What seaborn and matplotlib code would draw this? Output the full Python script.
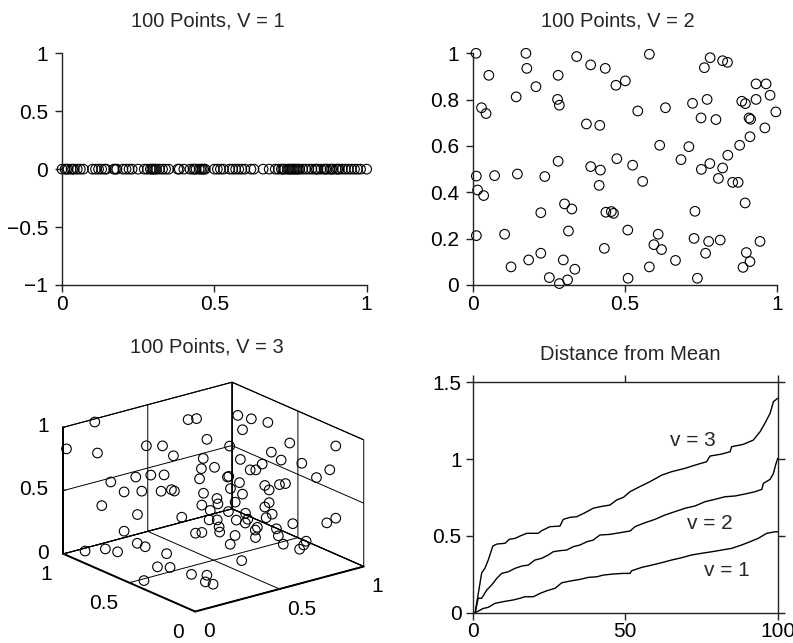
import numpy as np
import matplotlib
matplotlib.use("Agg")
import matplotlib.pyplot as plt
import seaborn as sns
from mpl_toolkits.mplot3d import Axes3D  # noqa: F401

# ---------------- data ----------------
# V = 1: points on the unit interval
v1_x = [0.00, 0.01, 0.02, 0.03, 0.04, 0.05, 0.07, 0.10, 0.11, 0.13,
        0.14, 0.17, 0.175, 0.18, 0.20, 0.22, 0.23, 0.25, 0.27, 0.28,
        0.29, 0.295, 0.30, 0.31, 0.32, 0.34, 0.35, 0.38, 0.385, 0.40,
        0.42, 0.43, 0.44, 0.45, 0.46, 0.465, 0.47, 0.50, 0.51, 0.52,
        0.53, 0.55, 0.56, 0.57, 0.58, 0.59, 0.60, 0.62, 0.63, 0.66,
        0.68, 0.70, 0.71, 0.72, 0.725, 0.73, 0.74, 0.745, 0.75, 0.755,
        0.76, 0.765, 0.77, 0.78, 0.79, 0.80, 0.81, 0.82, 0.83, 0.835,
        0.84, 0.85, 0.86, 0.865, 0.87, 0.88, 0.885, 0.89, 0.90, 0.905,
        0.91, 0.92, 0.93, 0.94, 0.95, 0.96, 0.97, 0.98, 1.00, 0.015,
        0.035, 0.06, 0.12, 0.145, 0.21, 0.305, 0.33, 0.435, 0.455, 0.775]
v1_y = [0.0] * len(v1_x)

# V = 2: points in the unit square
v2_x = [0.011, 0.175, 0.342, 0.581, 0.781, 0.822, 0.838, 0.762, 0.388, 0.436,
        0.178, 0.053, 0.281, 0.471, 0.502, 0.208, 0.932, 0.965, 0.978, 0.143,
        0.279, 0.285, 0.029, 0.044, 0.543, 0.634, 0.723, 0.771, 0.885, 0.897,
        0.932, 0.997, 0.751, 0.800, 0.909, 0.914, 0.961, 0.912, 0.878, 0.374,
        0.418, 0.615, 0.711, 0.685, 0.839, 0.780, 0.752, 0.822, 0.808, 0.855,
        0.873, 0.281, 0.388, 0.420, 0.474, 0.526, 0.559, 0.012, 0.072, 0.147,
        0.237, 0.016, 0.036, 0.416, 0.896, 0.302, 0.326, 0.438, 0.456, 0.463,
        0.731, 0.224, 0.012, 0.105, 0.315, 0.510, 0.610, 0.596, 0.621, 0.728,
        0.776, 0.814, 0.945, 0.900, 0.912, 0.889, 0.766, 0.667, 0.581, 0.433,
        0.224, 0.184, 0.126, 0.298, 0.336, 0.252, 0.285, 0.312, 0.511, 0.739]
v2_y = [1.000, 1.000, 0.986, 0.996, 0.981, 0.968, 0.961, 0.938, 0.950, 0.935,
        0.935, 0.905, 0.905, 0.862, 0.881, 0.856, 0.868, 0.868, 0.819, 0.812,
        0.801, 0.776, 0.765, 0.740, 0.751, 0.765, 0.784, 0.801, 0.793, 0.783,
        0.801, 0.747, 0.721, 0.714, 0.721, 0.715, 0.678, 0.640, 0.603, 0.695,
        0.689, 0.603, 0.597, 0.541, 0.560, 0.524, 0.499, 0.505, 0.460, 0.443,
        0.443, 0.534, 0.511, 0.496, 0.545, 0.517, 0.447, 0.470, 0.472, 0.479,
        0.468, 0.410, 0.386, 0.430, 0.354, 0.350, 0.328, 0.314, 0.317, 0.309,
        0.318, 0.312, 0.213, 0.219, 0.233, 0.237, 0.219, 0.174, 0.153, 0.201,
        0.188, 0.194, 0.188, 0.140, 0.101, 0.076, 0.137, 0.106, 0.078, 0.158,
        0.137, 0.108, 0.078, 0.108, 0.068, 0.032, 0.006, 0.022, 0.029, 0.029]

# V = 3: points in the unit cube
v3_x = [0.17, 0.01, 0.10, 0.63, 0.68, 0.87, 0.88, 0.90, 0.82, 0.64,
        0.32, 0.40, 0.41, 0.72, 0.85, 0.92, 0.54, 0.69, 0.78, 0.76,
        0.82, 0.56, 0.49, 0.67, 0.68, 0.71, 0.90, 0.86, 0.14, 0.21,
        0.26, 0.30, 0.44, 0.59, 0.59, 0.63, 0.77, 0.71, 0.75, 0.18,
        0.23, 0.29, 0.32, 0.33, 0.60, 0.64, 0.72, 0.11, 0.22, 0.52,
        0.51, 0.43, 0.62, 0.72, 0.71, 0.35, 0.48, 0.58, 0.65, 0.71,
        0.64, 0.73, 0.58, 0.45, 0.49, 0.61, 0.47, 0.65, 0.79, 0.89,
        0.92, 0.18, 0.33, 0.36, 0.45, 0.51, 0.63, 0.60, 0.74, 0.72,
        0.71, 0.45, 0.83, 0.80, 0.76, 0.05, 0.10, 0.11, 0.18, 0.18,
        0.19, 0.12, 0.14, 0.44, 0.15, 0.21, 0.04, 0.17, 0.20, 0.44]
v3_y = [0.98, 0.99, 0.87, 0.86, 0.86, 0.79, 0.70, 0.60, 0.69, 0.73,
        0.78, 0.76, 0.69, 0.66, 0.37, 0.11, 0.63, 0.54, 0.42, 0.32,
        0.24, 0.57, 0.58, 0.44, 0.41, 0.40, 0.13, 0.18, 0.82, 0.72,
        0.67, 0.62, 0.53, 0.50, 0.51, 0.47, 0.30, 0.38, 0.32, 0.77,
        0.70, 0.63, 0.59, 0.58, 0.50, 0.46, 0.36, 0.85, 0.72, 0.50,
        0.48, 0.50, 0.49, 0.36, 0.38, 0.55, 0.50, 0.49, 0.45, 0.37,
        0.42, 0.35, 0.43, 0.47, 0.46, 0.40, 0.42, 0.36, 0.27, 0.14,
        0.11, 0.77, 0.42, 0.41, 0.39, 0.35, 0.35, 0.31, 0.33, 0.29,
        0.24, 0.31, 0.22, 0.20, 0.18, 0.90, 0.81, 0.73, 0.67, 0.61,
        0.46, 0.44, 0.37, 0.21, 0.22, 0.18, 0.44, 0.14, 0.12, 0.50]
v3_z = [0.99, 0.83, 0.82, 0.90, 0.89, 0.88, 0.89, 0.90, 0.83, 0.80,
        0.84, 0.82, 0.77, 0.75, 0.86, 0.93, 0.73, 0.71, 0.79, 0.78,
        0.77, 0.68, 0.69, 0.68, 0.69, 0.73, 0.74, 0.67, 0.60, 0.66,
        0.68, 0.69, 0.65, 0.63, 0.62, 0.58, 0.60, 0.57, 0.59, 0.53,
        0.55, 0.56, 0.58, 0.57, 0.53, 0.49, 0.54, 0.41, 0.36, 0.48,
        0.45, 0.46, 0.42, 0.44, 0.40, 0.37, 0.40, 0.36, 0.34, 0.32,
        0.31, 0.35, 0.32, 0.35, 0.34, 0.30, 0.31, 0.27, 0.29, 0.32,
        0.36, 0.22, 0.31, 0.31, 0.29, 0.26, 0.26, 0.23, 0.24, 0.21,
        0.17, 0.23, 0.16, 0.15, 0.14, 0.05, 0.09, 0.10, 0.17, 0.17,
        0.18, 0.11, 0.13, 0.15, 0.14, 0.13, 0.03, 0.11, 0.09, 0.55]

# Sorted distances from the mean (point rank, distance)
d1_rank = [0.8, 3.5, 5.1, 7.3, 10.0, 13.3, 15.5, 17.1, 19.9, 22.1,
           24.3, 27.0, 29.2, 31.9, 35.2, 37.9, 40.7, 42.8, 46.1, 49.4,
           51.6, 52.1, 55.4, 58.7, 62.0, 65.2, 68.5, 71.8, 75.1, 78.4,
           81.6, 84.9, 88.2, 90.9, 93.6, 96.4, 99.1, 100.0]
d1_dist = [0.0, 0.028, 0.035, 0.061, 0.072, 0.083, 0.094, 0.104, 0.104, 0.126,
           0.143, 0.159, 0.195, 0.206, 0.217, 0.23, 0.234, 0.245, 0.252, 0.256,
           0.256, 0.273, 0.295, 0.31, 0.326, 0.343, 0.358, 0.376, 0.387, 0.397,
           0.408, 0.419, 0.441, 0.462, 0.484, 0.517, 0.527, 0.527]
d2_rank = [0.8, 1.8, 2.95, 4.6, 6.2, 7.9, 9.5, 11.7, 13.9, 16.1,
           18.2, 20.4, 22.6, 24.8, 26.4, 28.6, 30.8, 33.0, 35.2, 37.4,
           39.5, 41.7, 45.0, 48.3, 51.6, 53.2, 56.5, 59.8, 63.0, 66.3,
           69.6, 72.9, 76.2, 79.4, 82.7, 86.0, 89.3, 92.6, 94.8, 95.3,
           97.5, 98.6, 99.3, 100.0]
d2_dist = [0.0, 0.094, 0.094, 0.148, 0.18, 0.224, 0.256, 0.267, 0.289, 0.304,
           0.31, 0.343, 0.354, 0.376, 0.397, 0.404, 0.408, 0.43, 0.441, 0.462,
           0.473, 0.506, 0.51, 0.521, 0.532, 0.56, 0.586, 0.608, 0.636, 0.658,
           0.68, 0.695, 0.723, 0.738, 0.755, 0.76, 0.773, 0.788, 0.803, 0.842,
           0.868, 0.907, 0.961, 1.005]
d3_rank = [0.8, 2.95, 4.0, 5.1, 6.6, 7.9, 10.6, 12.0, 13.9, 15.5,
           17.7, 21.5, 22.6, 25.3, 28.6, 29.7, 31.9, 34.1, 36.8, 39.5,
           41.7, 45.0, 47.2, 49.4, 51.6, 54.3, 58.1, 62.0, 65.2, 69.6,
           72.9, 76.7, 77.8, 81.6, 84.4, 84.9, 88.7, 92.0, 94.2, 95.8,
           97.5, 98.6, 100.0]
d3_dist = [0.0, 0.26, 0.289, 0.343, 0.434, 0.447, 0.452, 0.478, 0.484, 0.499,
           0.517, 0.517, 0.534, 0.56, 0.564, 0.608, 0.621, 0.625, 0.651, 0.68,
           0.69, 0.701, 0.734, 0.751, 0.788, 0.816, 0.853, 0.896, 0.918, 0.94,
           0.961, 0.983, 1.02, 1.033, 1.048, 1.081, 1.096, 1.124, 1.178, 1.233,
           1.298, 1.374, 1.396]

titles = ["100 Points, V = 1", "100 Points, V = 2", "100 Points, V = 3",
          "Distance from Mean"]
curve_labels = ["v = 1", "v = 2", "v = 3"]

# ---------------- style ----------------
sns.set_theme(style="ticks")
plt.rcParams["font.family"] = ["Liberation Sans", "DejaVu Sans"]
FS_TICK = 15
FS_TITLE = 14.5
plt.rcParams.update({
    "axes.edgecolor": "#222222",
    "axes.linewidth": 1.0,
    "xtick.color": "#222222",
    "ytick.color": "#222222",
    "xtick.labelcolor": "black",
    "ytick.labelcolor": "black",
    "xtick.major.size": 5,
    "ytick.major.size": 5,
    "xtick.major.width": 1.0,
    "ytick.major.width": 1.0,
    "xtick.labelsize": FS_TICK,
    "ytick.labelsize": FS_TICK,
    "axes.titlesize": FS_TITLE,
    "grid.color": "black",
    "grid.linewidth": 0.7,
    "axes.unicode_minus": True,
})

MS = 48
ring = dict(marker="o", s=MS, facecolors="none", edgecolor="black",
            linewidth=0.8, clip_on=False, legend=False)


def fmt(v):
    return f"{v:g}".replace("-", "\u2212")


fig = plt.figure(figsize=(7.93, 6.43), dpi=100)

# ---- V = 1 ----
ax1 = fig.add_axes([0.0782, 0.5568, 0.3842, 0.3603])
sns.scatterplot(x=v1_x, y=v1_y, ax=ax1, **ring)
ax1.set_xlim(0, 1)
ax1.set_ylim(-1, 1)
xt = [0, 0.5, 1]
yt = [-1, -0.5, 0, 0.5, 1]
ax1.set_xticks(xt, [fmt(v) for v in xt])
ax1.set_yticks(yt, [fmt(v) for v in yt])
ax1.tick_params(axis="y", pad=5)
ax1.tick_params(axis="x", pad=2)
sns.despine(ax=ax1)
ax1.set_title(titles[0], pad=19, x=0.477, fontsize=FS_TITLE)

# ---- V = 2 ----
ax2 = fig.add_axes([0.5961, 0.5568, 0.3834, 0.3603])
sns.scatterplot(x=v2_x, y=v2_y, ax=ax2, **ring)
ax2.set_xlim(0, 1)
ax2.set_ylim(0, 1)
yt2 = [0, 0.2, 0.4, 0.6, 0.8, 1]
ax2.set_xticks(xt, [fmt(v) for v in xt])
ax2.set_yticks(yt2, [fmt(v) for v in yt2])
ax2.tick_params(axis="y", pad=5)
ax2.tick_params(axis="x", pad=2)
sns.despine(ax=ax2)
ax2.set_title(titles[1], pad=19, x=0.477, fontsize=FS_TITLE)

# ---- V = 3 ----
ax3 = fig.add_axes([0.0139, -0.0295, 0.5, 0.5], projection="3d",
                   proj_type="ortho")
ax3.scatter(v3_x, v3_y, v3_z, marker="o", s=MS, facecolors="none",
            edgecolors="black", linewidths=0.8, depthshade=False)
ax3.view_init(elev=20, azim=-128)
ax3.set_box_aspect((1, 1, 0.63))
ax3.set_xlim(0, 1)
ax3.set_ylim(0, 1)
ax3.set_zlim(0, 1)
t3 = [0, 0.5, 1]
for axis in (ax3.xaxis, ax3.yaxis, ax3.zaxis):
    axis.set_ticks(t3, [fmt(v) for v in t3])
    axis.set_pane_color((1, 1, 1, 1))
    axis.pane.set_edgecolor("black")
    axis.pane.set_linewidth(0.8)
    axis.line.set_color("black")
    axis.line.set_linewidth(1.4)
    axis._axinfo["grid"].update(color="black", linewidth=0.7, linestyle="-")
    axis._axinfo["tick"].update(inward_factor=0.0, outward_factor=0.15)
ax3.tick_params(labelsize=FS_TICK)
ax3.tick_params(axis="x", pad=-1)
ax3.tick_params(axis="y", pad=0)
ax3.tick_params(axis="z", pad=-2)
for lbl in ax3.xaxis.get_ticklabels():
    lbl.set_horizontalalignment("left")
    lbl.set_verticalalignment("top")
for lbl in ax3.yaxis.get_ticklabels():
    lbl.set_horizontalalignment("right")
    lbl.set_verticalalignment("top")
for lbl in ax3.zaxis.get_ticklabels():
    lbl.set_horizontalalignment("right")
    lbl.set_verticalalignment("center")
ax3.grid(True)
ax3.patch.set_alpha(0)
fig.text(207 / 793, 1 - 347 / 643, titles[2], ha="center", va="center",
         fontsize=FS_TITLE)

# ---- Distance from mean ----
ax4 = fig.add_axes([0.5961, 0.0471, 0.3846, 0.3583])
for r, d in ((d1_rank, d1_dist), (d2_rank, d2_dist), (d3_rank, d3_dist)):
    sns.lineplot(x=r, y=d, ax=ax4, color="black", linewidth=1.0,
                 estimator=None, sort=False)
ax4.set_xlim(0, 100)
ax4.set_ylim(0, 1.5)
xt4 = [0, 50, 100]
yt4 = [0, 0.5, 1, 1.5]
ax4.set_xticks(xt4, [fmt(v) for v in xt4])
ax4.set_yticks(yt4, [fmt(v) for v in yt4])
ax4.tick_params(top=True, right=True, direction="out")
ax4.tick_params(axis="y", pad=3)
ax4.tick_params(axis="x", pad=2)
for lbl, (lx, ly) in zip(curve_labels, ((83.3, 0.278), (77.8, 0.582),
                                        (72.2, 1.118))):
    ax4.text(lx, ly, lbl, ha="center", va="center", fontsize=FS_TICK)
ax4.set_title(titles[3], pad=16, x=0.515, fontsize=FS_TITLE)

fig.savefig("out.png", dpi=100)
